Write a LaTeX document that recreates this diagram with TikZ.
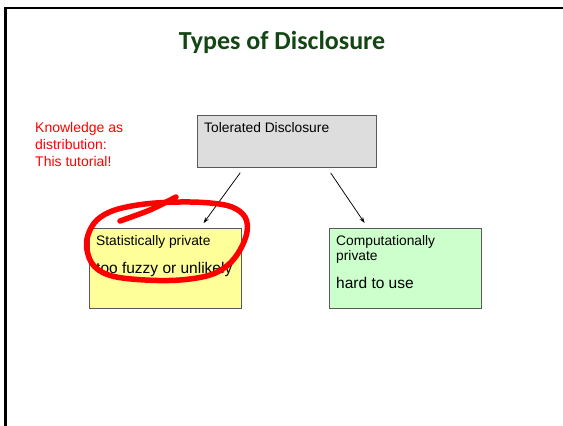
\documentclass[tikz,border=0pt]{standalone}
\usepackage{fontspec}
\setmainfont{Liberation Sans}
\newfontfamily\titlefont{Carlito}
\usetikzlibrary{calc,arrows.meta}
\definecolor{titlegreen}{RGB}{20,70,20}
\definecolor{boxgray}{RGB}{221,221,221}
\definecolor{boxyellow}{RGB}{255,255,153}
\definecolor{boxgreen}{RGB}{204,255,204}
\definecolor{inkred}{RGB}{255,0,0}
\begin{document}
\begin{tikzpicture}[x=1pt,y=-1pt,
  panel/.style={draw=black!65, line width=0.9pt, anchor=north west, inner sep=0pt},
  body/.style={anchor=base west, inner sep=0pt, font=\fontsize{13.8}{15}\selectfont},
  big/.style={anchor=base west, inner sep=0pt, font=\fontsize{15.5}{18}\selectfont},
  note/.style={anchor=base west, inner sep=0pt, text=inkred, font=\fontsize{14}{17}\selectfont},
  link/.style={line width=0.75pt, -{Stealth[length=6pt,width=4pt]}},
  ink/.style={draw=inkred, line width=5.5pt, line cap=round, line join=round}]
\useasboundingbox (0,0) rectangle (563,426);
% slide frame
\draw[line width=2.5pt] (5.5,440) -- (5.5,8) -- (580,8);

% title
\node[font=\titlefont\bfseries\fontsize{26}{30}\selectfont, text=titlegreen] (title) at (282,42) {Types of Disclosure};

% side note
\node[note] (note1) at (35,132) {Knowledge as};
\node[note] (note2) at (35,149) {distribution:};
\node[note] (note3) at (35,166) {This tutorial!};

% boxes
\node[panel, fill=boxgray, minimum width=179pt, minimum height=52pt] (tol) at (197,115) {};
\node[panel, fill=boxyellow, minimum width=152pt, minimum height=80pt] (stat) at (89,228) {};
\node[panel, fill=boxgreen, minimum width=152pt, minimum height=80pt] (comp) at (329,228) {};

% box texts
\node[body] (toltext) at ($(tol.north west)+(7,17)$) {Tolerated Disclosure};
\node[body] (stattext) at ($(stat.north west)+(7,17)$) {Statistically private};
\node[big] (statnote) at ($(stat.north west)+(7,45)$) {too fuzzy or unlikely};
\node[body] (comptext1) at ($(comp.north west)+(7,17)$) {Computationally};
\node[body] (comptext2) at ($(comp.north west)+(7,32)$) {private};
\node[big] (compnote) at ($(comp.north west)+(7,60)$) {hard to use};

% connectors
\coordinate (l1) at ($(tol.south west)!0.26!(tol.south east)$);
\coordinate (l2) at ($(stat.north west)!0.726!(stat.north east)$);
\coordinate (r1) at ($(tol.south west)!0.724!(tol.south east)$);
\coordinate (r2) at ($(comp.north west)!0.255!(comp.north east)$);
\draw[link, shorten <=6pt, shorten >=6pt] (l1) -- (l2);
\draw[link, shorten <=6pt, shorten >=6pt] (r1) -- (r2);

% hand-drawn ink marks
\draw[ink] plot[smooth cycle, tension=0.6] coordinates {(87,250) (88,235) (97,220) (115,210) (145,204) (180,202) (210,203) (232,207) (245,217) (247,232) (240,250) (228,265) (210,275) (180,280) (145,280) (112,276) (94,266)};
\draw[ink] plot[smooth, tension=0.4] coordinates {(120,221) (150,210) (176,197)};
\end{tikzpicture}
\end{document}
